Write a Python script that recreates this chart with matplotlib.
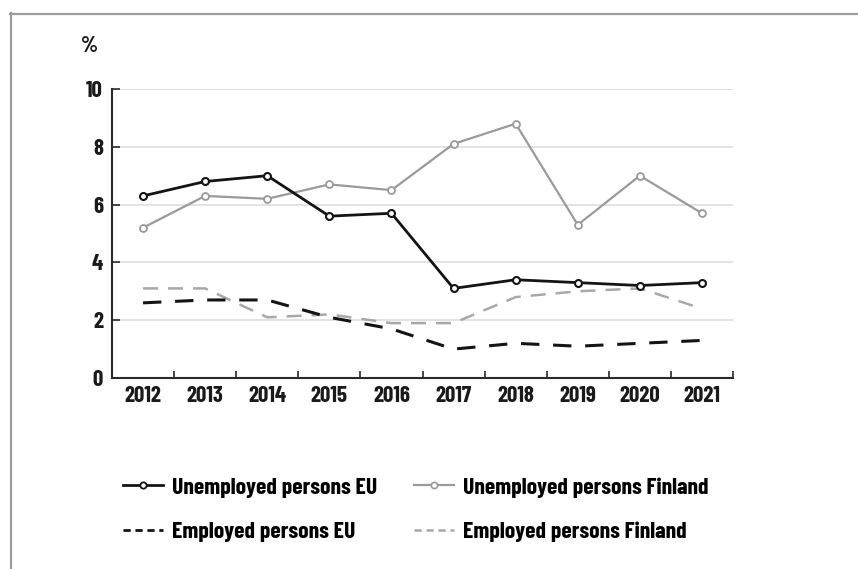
import matplotlib
matplotlib.use("Agg")
import matplotlib.pyplot as plt
from matplotlib.lines import Line2D
from matplotlib.ticker import FixedLocator

plt.rcParams["font.family"] = ["Barlow Condensed", "DejaVu Sans"]
plt.rcParams["font.weight"] = "bold"

# data (%)
years = ["2012", "2013", "2014", "2015", "2016", "2017", "2018", "2019", "2020", "2021"]
unemployed_eu = [6.3, 6.8, 7.0, 5.6, 5.7, 3.1, 3.4, 3.3, 3.2, 3.3]
unemployed_fi = [5.2, 6.3, 6.2, 6.7, 6.5, 8.1, 8.8, 5.3, 7.0, 5.7]
employed_eu = [2.6, 2.7, 2.7, 2.1, 1.7, 1.0, 1.2, 1.1, 1.2, 1.3]
employed_fi = [3.1, 3.1, 2.1, 2.2, 1.9, 1.9, 2.8, 3.0, 3.1, 2.4]
y_ticks = [0, 2, 4, 6, 8, 10]

C_BLACK = "#141414"
C_GREY = "#9a9a9a"
C_GREY_DASH = "#a8a8a8"
C_GRID = "#dedede"
C_AXIS = "#2a2a2a"
C_TEXT = "#1a1a1a"

W, H = 858, 569
fig = plt.figure(figsize=(W / 100, H / 100), dpi=100)
ax = fig.add_axes([112 / W, 1 - 378 / H, (733 - 112) / W, (378 - 89) / H])

x = list(range(len(years)))

ax.plot(x, employed_fi, color=C_GREY_DASH, lw=1.8, dashes=(6, 4), zorder=2)
ax.plot(x, employed_eu, color=C_BLACK, lw=2.2, dashes=(6, 4.5), zorder=3)
ax.plot(x, unemployed_fi, color=C_GREY, lw=1.6, marker="o", ms=5,
        mfc="white", mec=C_GREY, mew=1.3, zorder=4)
ax.plot(x, unemployed_eu, color=C_BLACK, lw=2.0, marker="o", ms=5,
        mfc="white", mec=C_BLACK, mew=1.5, zorder=5)

ax.set_xlim(-0.5, len(years) - 0.5)
ax.set_ylim(0, 10)

# gridlines
for v in y_ticks[1:]:
    ax.axhline(v, color=C_GRID, lw=1.2, zorder=0)

ax.set_xticks(x)
ax.set_xticklabels(years)
ax.xaxis.set_minor_locator(FixedLocator([i + 0.5 for i in x]))
ax.tick_params(axis="x", which="major", length=0, pad=5.5, labelsize=16.5,
               labelcolor=C_TEXT)
ax.tick_params(axis="x", which="minor", direction="in", length=5,
               width=1.2, color=C_AXIS)
ax.set_yticks(y_ticks)
ax.tick_params(axis="y", direction="in", length=6, width=1.2, color=C_AXIS,
               pad=6.5, labelsize=16.5, labelcolor=C_TEXT)

for s in ["top", "right"]:
    ax.spines[s].set_visible(False)
for s in ["left", "bottom"]:
    ax.spines[s].set_color(C_AXIS)
    ax.spines[s].set_linewidth(1.5)

fig.text(90 / W, 1 - 46 / H, "%", ha="center", va="center", fontsize=16,
         color=C_TEXT)

# frame around the figure
fig.add_artist(Line2D([10 / W, 1], [1 - 13.5 / H] * 2, color="#9c9c9c",
                      lw=1.6, transform=fig.transFigure))
fig.add_artist(Line2D([10.5 / W] * 2, [0, 1 - 13 / H], color="#9c9c9c",
                      lw=1.6, transform=fig.transFigure))

# legend, two columns
h_un_eu = Line2D([], [], color=C_BLACK, lw=2.0, marker="o", ms=4.5,
                 mfc="white", mec=C_BLACK, mew=1.3)
h_em_eu = Line2D([], [], color=C_BLACK, lw=2.0, dashes=(2.6, 1.7))
h_un_fi = Line2D([], [], color=C_GREY, lw=1.6, marker="o", ms=4.5,
                 mfc="white", mec=C_GREY, mew=1.2)
h_em_fi = Line2D([], [], color=C_GREY_DASH, lw=1.8, dashes=(2.9, 1.9))

leg_kw = dict(loc="upper left", frameon=False, fontsize=17, handlelength=1.7,
              handletextpad=0.38, labelspacing=1.02, borderpad=0,
              borderaxespad=0)
fig.legend([h_un_eu, h_em_eu], ["Unemployed persons EU", "Employed persons EU"],
           bbox_to_anchor=(123 / W, 1 - 477 / H), **leg_kw)
fig.legend([h_un_fi, h_em_fi], ["Unemployed persons Finland", "Employed persons Finland"],
           bbox_to_anchor=(414 / W, 1 - 477 / H), **leg_kw)

fig.savefig("out.png", dpi=100, facecolor="white")
